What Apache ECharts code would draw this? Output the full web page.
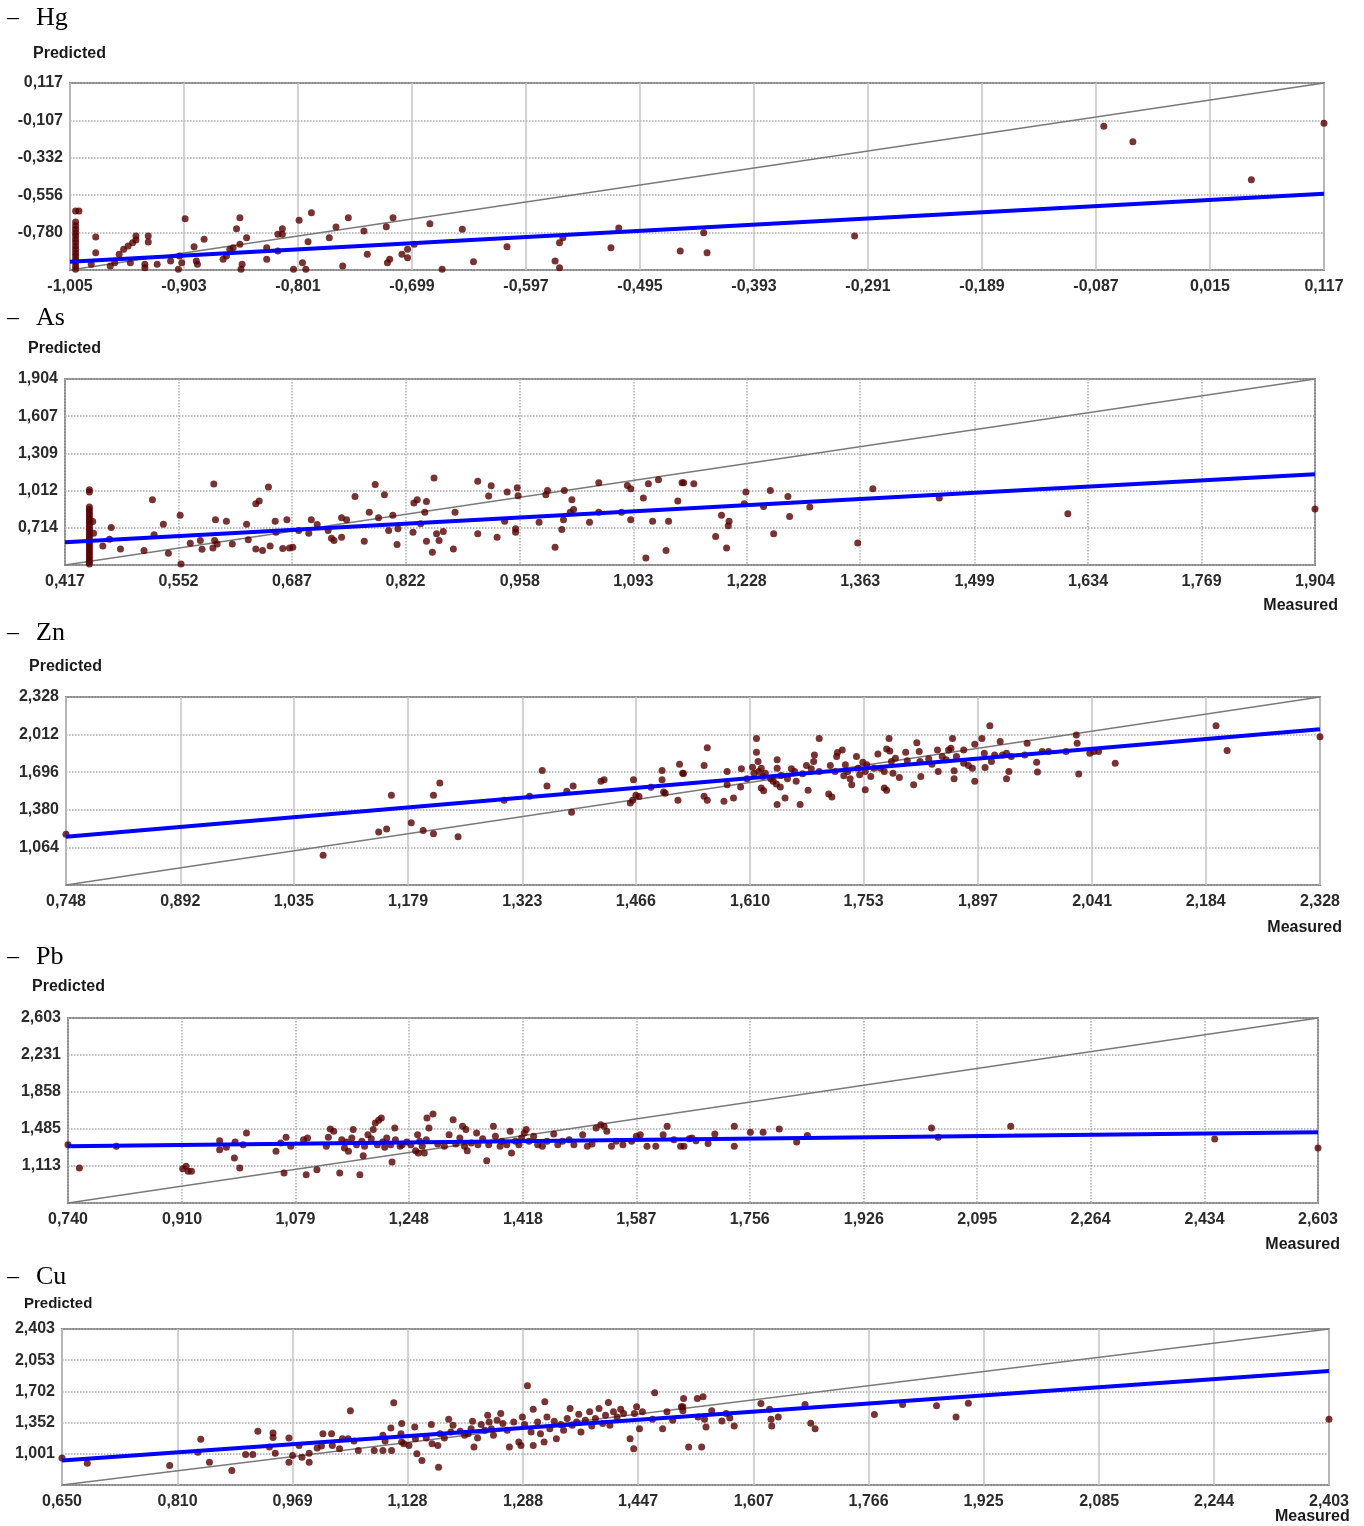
<!DOCTYPE html>
<html><head><meta charset="utf-8">
<script src="https://cdn.jsdelivr.net/npm/echarts@6/dist/echarts.min.js"></script>
<style>html,body{margin:0;padding:0;background:#fff}#c{width:1364px;height:1526px}</style>
</head><body><div id="c"></div>
<script>
// ---------- tick labels ----------
const hgXTicks = [-1.005,-0.903,-0.801,-0.699,-0.597,-0.495,-0.393,-0.291,-0.189,-0.087,0.015,0.117];
const hgYTicks = [-1.005,-0.780,-0.556,-0.332,-0.107,0.117];
const asXTicks = [0.417,0.552,0.687,0.822,0.958,1.093,1.228,1.363,1.499,1.634,1.769,1.904];
const asYTicks = [0.417,0.714,1.012,1.309,1.607,1.904];
const znXTicks = [0.748,0.892,1.035,1.179,1.323,1.466,1.610,1.753,1.897,2.041,2.184,2.328];
const znYTicks = [0.748,1.064,1.380,1.696,2.012,2.328];
const pbXTicks = [0.740,0.910,1.079,1.248,1.418,1.587,1.756,1.926,2.095,2.264,2.434,2.603];
const pbYTicks = [0.740,1.113,1.485,1.858,2.231,2.603];
const cuXTicks = [0.650,0.810,0.969,1.128,1.288,1.447,1.607,1.766,1.925,2.085,2.244,2.403];
const cuYTicks = [0.650,1.001,1.352,1.702,2.053,2.403];

// ---------- regression lines (measured, predicted) ----------
const hgFit = [[-1.005,-0.955],[0.117,-0.547]];
const asFit = [[0.417,0.599],[1.904,1.142]];
const znFit = [[0.748,1.154],[2.328,2.056]];
const pbFit = [[0.740,1.311],[2.603,1.452]];
const cuFit = [[0.650,0.925],[2.403,1.932]];

// ---------- points [measured, predicted] ----------
const hgPoints = [
[-1.0,-0.651],[-0.997,-0.651],[-1.0,-0.717],[-1.0,-0.740],[-1.0,-0.761],[-1.0,-0.781],[-1.0,-0.800],[-1.0,-0.821],[-1.0,-0.840],[-1.0,-0.861],[-1.0,-0.880],[-1.0,-0.901],[-1.0,-0.920],[-1.0,-0.941],[-1.0,-0.960],[-1.0,-0.981],[-1.0,-1.0],
[-0.982,-0.807],[-0.982,-0.901],[-0.986,-0.971],[-0.969,-0.981],[-0.965,-0.961],[-0.961,-0.911],[-0.957,-0.881],[-0.953,-0.861],[-0.949,-0.841],[-0.946,-0.801],[-0.946,-0.825],[-0.951,-0.961],[-0.938,-0.971],[-0.938,-0.991],[-0.935,-0.801],[-0.935,-0.837],[-0.927,-0.971],[-0.915,-0.951],[-0.907,-0.921],[-0.902,-0.697],[-0.905,-0.961],[-0.908,-1.001],[-0.894,-0.865],[-0.892,-0.951],[-0.891,-0.971],[-0.885,-0.821],[-0.868,-0.941],[-0.865,-0.921],[-0.862,-0.881],[-0.859,-0.871],[-0.856,-0.757],[-0.853,-0.691],[-0.853,-0.851],[-0.851,-0.971],[-0.852,-1.001],[-0.847,-0.811],[-0.829,-0.871],[-0.829,-0.941],[-0.819,-0.891],[-0.819,-0.791],[-0.815,-0.757],[-0.815,-0.791],[-0.805,-1.001],[-0.800,-0.707],[-0.797,-0.961],[-0.794,-1.001],[-0.792,-0.835],[-0.789,-0.661],[-0.773,-0.811],[-0.767,-0.747],[-0.761,-0.981],[-0.756,-0.691],[-0.742,-0.771],[-0.739,-0.911],[-0.722,-0.745],[-0.721,-0.961],[-0.719,-0.941],[-0.716,-0.691],[-0.708,-0.911],[-0.703,-0.931],[-0.703,-0.881],[-0.697,-0.851],[-0.683,-0.727],[-0.672,-1.001],[-0.654,-0.761],[-0.644,-0.955],[-0.614,-0.865],[-0.571,-0.951],[-0.567,-0.991],[-0.567,-0.841],[-0.564,-0.811],[-0.521,-0.871],[-0.514,-0.753],[-0.459,-0.891],[-0.438,-0.781],[-0.435,-0.901],[-0.303,-0.801],[-0.080,-0.143],[-0.054,-0.235],[0.052,-0.463],[0.117,-0.125]
];
const asPoints = [
[0.446,1.019],[0.446,1.000],[0.446,0.880],[0.446,0.860],[0.446,0.840],[0.446,0.820],[0.446,0.800],[0.446,0.780],[0.446,0.760],[0.446,0.740],[0.446,0.720],[0.446,0.700],[0.446,0.680],[0.446,0.660],[0.446,0.640],[0.446,0.620],[0.446,0.600],[0.446,0.580],[0.446,0.560],[0.446,0.540],[0.446,0.520],[0.446,0.500],[0.446,0.480],[0.446,0.460],[0.446,0.440],[0.446,0.425],[0.450,0.765],[0.451,0.671],
[0.462,0.569],[0.472,0.716],[0.470,0.623],[0.483,0.545],[0.511,0.532],[0.521,0.938],[0.523,0.658],[0.534,0.743],[0.540,0.511],[0.554,0.815],[0.555,0.425],[0.566,0.591],[0.578,0.612],[0.580,0.543],[0.594,1.064],[0.596,0.778],[0.595,0.612],[0.593,0.553],[0.598,0.585],[0.609,0.767],[0.616,0.585],[0.633,0.743],[0.635,0.618],[0.644,0.906],[0.648,0.928],[0.644,0.545],[0.652,0.532],[0.659,1.040],[0.661,0.569],[0.667,0.767],[0.668,0.679],[0.676,0.548],[0.681,0.778],[0.684,0.553],[0.688,0.559],[0.695,0.692],[0.707,0.671],[0.710,0.778],[0.717,0.741],[0.730,0.692],[0.734,0.631],[0.737,0.612],[0.746,0.794],[0.752,0.778],[0.746,0.639],[0.762,0.965],[0.773,0.607],[0.779,0.839],[0.786,1.061],[0.790,0.794],[0.797,0.979],[0.802,0.692],[0.807,0.815],[0.813,0.706],[0.812,0.580],[0.831,0.679],[0.832,0.912],[0.836,0.938],[0.840,0.746],[0.845,0.839],[0.847,0.925],[0.847,0.607],[0.854,0.519],[0.856,1.112],[0.859,0.666],[0.862,0.612],[0.867,0.684],[0.879,0.545],[0.881,0.839],[0.908,0.666],[0.908,1.086],[0.921,0.968],[0.924,1.051],[0.931,0.639],[0.940,0.767],[0.943,1.000],[0.953,0.679],[0.953,0.706],[0.955,1.035],[0.956,0.971],[0.981,0.759],[0.989,0.979],[0.991,1.013],[1.000,0.559],[1.008,0.700],[1.010,0.778],[1.011,1.013],[1.018,0.839],[1.020,0.938],[1.022,0.861],[1.041,0.759],[1.052,1.075],[1.052,0.839],[1.079,0.839],[1.086,1.053],[1.090,1.027],[1.090,0.778],[1.105,0.952],[1.108,0.473],[1.111,1.067],[1.116,0.767],[1.123,1.099],[1.132,0.532],[1.135,0.767],[1.146,0.928],[1.151,1.075],[1.165,1.067],
[1.153,1.075],[1.191,0.644],[1.198,0.815],[1.204,0.553],[1.206,0.730],[1.207,0.767],[1.225,0.906],[1.227,1.000],[1.248,0.885],[1.256,1.013],[1.260,0.666],[1.277,0.965],[1.279,0.805],[1.303,0.880],[1.360,0.593],[1.378,1.027],[1.457,0.952],[1.610,0.826],[1.904,0.864]
];
const znPoints = [
[0.748,1.174],[1.072,0.998],[1.142,1.193],[1.152,1.218],[1.158,1.502],[1.183,1.271],[1.198,1.207],[1.211,1.179],[1.211,1.502],[1.219,1.605],[1.242,1.154],[1.300,1.460],[1.332,1.494],[1.348,1.711],[1.354,1.580],[1.379,1.535],[1.385,1.360],[1.387,1.580],[1.422,1.619],[1.426,1.633],[1.459,1.438],[1.462,1.460],[1.463,1.633],[1.466,1.502],[1.470,1.491],[1.485,1.569],[1.499,1.711],[1.499,1.633],[1.501,1.530],[1.503,1.519],[1.519,1.460],[1.521,1.763],[1.526,1.686],
[1.525,1.688],[1.552,1.752],[1.556,1.902],[1.552,1.494],[1.556,1.460],[1.577,1.452],[1.581,1.591],[1.581,1.702],[1.589,1.480],[1.598,1.571],[1.599,1.724],[1.606,1.641],[1.613,1.738],[1.615,1.688],[1.618,1.980],[1.618,1.864],[1.620,1.786],[1.621,1.702],[1.624,1.730],[1.626,1.660],[1.624,1.563],[1.627,1.541],[1.629,1.688],[1.636,1.641],[1.639,1.619],[1.643,1.597],[1.644,1.800],[1.644,1.730],[1.644,1.424],[1.648,1.571],[1.649,1.669],[1.654,1.480],[1.657,1.641],[1.662,1.724],[1.666,1.702],[1.668,1.619],[1.673,1.424],[1.676,1.683],[1.681,1.752],[1.683,1.544],[1.687,1.724],[1.690,1.786],[1.691,1.841],[1.697,1.980],[1.697,1.702],[1.709,1.513],[1.713,1.488],[1.711,1.752],[1.717,1.702],[1.719,1.827],[1.720,1.861],[1.726,1.883],[1.728,1.666],[1.730,1.758],[1.733,1.702],[1.736,1.641],[1.738,1.591],[1.744,1.827],[1.746,1.730],[1.748,1.674],[1.752,1.780],[1.755,1.702],[1.755,1.549],[1.757,1.758],[1.762,1.660],[1.766,1.730],[1.771,1.850],[1.774,1.730],[1.779,1.702],[1.779,1.563],[1.782,1.544],[1.782,1.891],[1.785,1.980],[1.786,1.875],[1.788,1.786],[1.790,1.688],[1.793,1.814],[1.798,1.652],[1.806,1.864],[1.808,1.792],[1.816,1.591],[1.820,1.944],[1.823,1.869],[1.824,1.786],[1.825,1.660],[1.835,1.808],[1.839,1.763],[1.846,1.883],[1.847,1.702],[1.852,1.827],[1.857,1.800],[1.860,1.883],[1.863,1.897],[1.865,1.980],[1.867,1.708],[1.867,1.641],[1.870,1.827],[1.879,1.883],[1.879,1.772],[1.885,1.752],[1.890,1.730],[1.893,1.619],[1.893,1.930],[1.902,1.980],[1.905,1.855],[1.906,1.736],[1.912,2.086],[1.914,1.786],[1.918,1.841],[1.925,1.953],[1.928,1.841],[1.933,1.855],[1.933,1.641],[1.936,1.702],[1.939,1.827],[1.956,1.841],[1.959,1.939],[1.971,1.780],[1.972,1.697],[1.978,1.869],[1.986,1.869],[2.008,1.869],[2.021,2.008],[2.022,1.939],[2.024,1.680],[2.038,1.855],[2.043,1.869],[2.049,1.869],[2.070,1.772],[2.197,2.086],[2.211,1.878],[2.328,1.994]
];
const pbPoints = [
[0.740,1.327],[0.757,1.092],[0.812,1.311],[0.911,1.086],[0.916,1.109],[0.919,1.059],[0.924,1.059],[0.966,1.368],[0.966,1.277],[0.976,1.301],[0.988,1.193],[0.989,1.354],[0.996,1.092],[1.001,1.327],[1.006,1.445],[1.050,1.260],[1.057,1.344],[1.062,1.042],[1.065,1.401],[1.072,1.311],[1.091,1.378],[1.097,1.395],[1.095,1.025],[1.111,1.076],[1.125,1.311],[1.128,1.401],[1.131,1.485],[1.136,1.462],[1.145,1.042],[1.148,1.378],[1.152,1.294],[1.155,1.354],[1.158,1.260],[1.163,1.395],[1.165,1.479],[1.170,1.327],[1.175,1.025],[1.178,1.361],[1.180,1.217],[1.182,1.311],[1.187,1.428],[1.192,1.388],[1.195,1.479],[1.198,1.546],[1.201,1.327],[1.203,1.573],[1.207,1.596],[1.209,1.354],[1.212,1.301],[1.215,1.395],[1.221,1.327],[1.223,1.153],[1.227,1.495],[1.228,1.378],[1.235,1.311],[1.238,1.327],[1.245,1.354],[1.251,1.327],[1.258,1.267],[1.261,1.428],[1.262,1.244],[1.264,1.361],[1.268,1.311],[1.271,1.244],[1.274,1.378],[1.275,1.596],[1.278,1.495],[1.284,1.636],[1.291,1.334],[1.301,1.311],[1.308,1.428],[1.314,1.579],[1.318,1.334],[1.324,1.395],[1.328,1.512],[1.331,1.311],[1.333,1.479],[1.335,1.267],[1.341,1.344],[1.349,1.445],[1.351,1.327],[1.358,1.388],[1.364,1.166],[1.367,1.327],[1.374,1.512],[1.377,1.411],[1.384,1.311],[1.387,1.361],[1.394,1.327],[1.399,1.462],[1.401,1.244],[1.407,1.361],[1.412,1.327],[1.416,1.395],[1.420,1.445],[1.423,1.479],[1.427,1.361],[1.434,1.411],[1.440,1.327],[1.447,1.311],[1.454,1.361],[1.464,1.435],[1.470,1.327],[1.477,1.361],[1.487,1.378],[1.494,1.327],[1.507,1.428],[1.514,1.311],[1.521,1.334],[1.527,1.495],[1.534,1.529],[1.539,1.512],[1.543,1.462],[1.550,1.311],[1.557,1.361],[1.567,1.327],[1.580,1.361],[1.587,1.411],[1.593,1.428],[1.603,1.311],[1.616,1.311],[1.627,1.428],[1.633,1.512],[1.643,1.378],[1.653,1.311],[1.666,1.388],
[1.658,1.311],[1.670,1.395],[1.676,1.368],[1.694,1.338],[1.704,1.435],[1.733,1.512],[1.733,1.311],[1.757,1.452],[1.776,1.452],[1.800,1.485],[1.826,1.354],[1.842,1.421],[2.027,1.495],[2.037,1.401],[2.145,1.512],[2.449,1.385],[2.603,1.294]
];
const cuPoints = [
[0.650,0.952],[0.685,0.895],[0.799,0.869],[0.838,1.019],[0.842,1.163],[0.854,0.906],[0.885,0.812],[0.904,0.993],[0.914,0.993],[0.921,1.253],[0.937,1.076],[0.942,1.235],[0.942,1.185],[0.945,1.008],[0.964,1.178],[0.964,0.906],[0.969,0.982],[0.978,1.095],[0.982,0.963],[0.992,0.906],[0.992,1.008],[1.003,1.065],[1.009,1.087],[1.011,1.227],[1.023,1.227],[1.024,1.095],[1.034,1.057],[1.038,1.170],[1.046,1.170],[1.049,1.483],[1.054,1.144],[1.060,1.038],[1.082,1.038],[1.094,1.208],[1.094,1.038],[1.097,1.144],[1.105,1.291],[1.106,1.038],[1.109,1.574],[1.120,1.340],[1.119,1.227],[1.120,1.133],[1.123,1.114],[1.130,1.095],[1.138,1.302],[1.139,1.170],[1.141,1.001],[1.148,0.925],[1.154,1.178],[1.161,1.329],[1.162,1.114],[1.170,1.095],[1.171,0.850],[1.173,1.227],[1.179,1.178],[1.185,1.389],[1.188,1.246],[1.191,1.321],[1.201,1.253],[1.207,1.208],[1.212,1.227],[1.216,1.283],[1.218,1.366],[1.220,1.076],[1.225,1.178],[1.230,1.329],[1.235,1.265],[1.239,1.434],[1.241,1.359],[1.244,1.283],[1.247,1.208],[1.252,1.378],[1.257,1.453],[1.260,1.340],[1.266,1.265],[1.269,1.076],[1.275,1.359],[1.282,1.133],[1.285,1.095],[1.287,1.415],[1.290,1.329],[1.294,1.766],[1.299,1.246],[1.302,1.502],[1.302,1.095],[1.308,1.359],[1.312,1.227],[1.317,1.133],[1.318,1.585],[1.321,1.415],[1.325,1.283],[1.331,1.366],[1.334,1.170],[1.340,1.329],[1.344,1.265],[1.349,1.396],[1.353,1.510],[1.356,1.321],[1.362,1.359],[1.365,1.445],[1.368,1.246],[1.374,1.378],[1.380,1.472],[1.383,1.314],[1.388,1.396],[1.393,1.510],[1.398,1.340],[1.402,1.434],[1.406,1.577],[1.408,1.321],[1.413,1.472],[1.418,1.415],[1.423,1.502],[1.427,1.453],[1.436,1.170],[1.441,1.057],[1.442,1.453],[1.445,1.528],[1.449,1.283],[1.453,1.472],[1.467,1.389],[1.470,1.687],[1.481,1.283],[1.487,1.472],[1.495,1.378],[1.507,1.528],[1.510,1.623],[1.517,1.076],[1.529,1.623],
[1.509,1.528],[1.509,1.483],[1.530,1.415],[1.535,1.076],[1.537,1.641],[1.539,1.389],[1.541,1.302],[1.549,1.483],[1.563,1.370],[1.569,1.453],[1.574,1.404],[1.580,1.314],[1.617,1.566],[1.629,1.502],[1.631,1.389],[1.632,1.314],[1.641,1.415],[1.678,1.555],[1.686,1.344],[1.692,1.283],[1.774,1.442],[1.813,1.555],[1.860,1.540],[1.887,1.415],[1.904,1.570],[2.403,1.389]
];

const panels = [
  {name:'Hg', xt:hgXTicks, yt:hgYTicks, pts:hgPoints, fit:hgFit, grid:{left:70,top:83,width:1254,height:187}, titleY:18, pred:[33,55,16], meas:null, vSolid:true},
  {name:'As', xt:asXTicks, yt:asYTicks, pts:asPoints, fit:asFit, grid:{left:65,top:379,width:1250,height:186}, titleY:318, pred:[28,350,16], meas:{right:26,y:607}, vSolid:false},
  {name:'Zn', xt:znXTicks, yt:znYTicks, pts:znPoints, fit:znFit, grid:{left:66,top:697,width:1254,height:188}, titleY:633, pred:[29,668,16], meas:{right:22,y:929}, vSolid:true},
  {name:'Pb', xt:pbXTicks, yt:pbYTicks, pts:pbPoints, fit:pbFit, grid:{left:68,top:1018,width:1250,height:185}, titleY:957, pred:[32,988,16], meas:{right:24,y:1246}, vSolid:false},
  {name:'Cu', xt:cuXTicks, yt:cuYTicks, pts:cuPoints, fit:cuFit, grid:{left:62,top:1329,width:1267,height:156}, titleY:1277, pred:[24,1305,15], meas:{left:1275,y:1518}, vSolid:true}
];

const LBL = "'Liberation Sans','Arial',sans-serif";
const fmt = v => Number(v).toFixed(3).replace('.', ',');

const grid = [], xAxis = [], yAxis = [], series = [], graphic = [];
panels.forEach((p, i) => {
  grid.push(Object.assign({show:true, borderColor:'#8a8a8a', borderWidth:2, backgroundColor:'#fff', containLabel:false}, p.grid));
  const xmin = p.xt[0], xmax = p.xt[p.xt.length-1];
  const ymin = p.yt[0], ymax = p.yt[p.yt.length-1];
  const lab = {formatter:fmt, fontSize:16, fontWeight:'bold', color:'#2b2b2b', fontFamily:LBL, hideOverlap:false};
  xAxis.push({
    gridIndex:i, type:'value', min:xmin, max:xmax,
    axisLine:{show:false},
    axisTick:{show:false, customValues:p.xt},
    axisLabel:Object.assign({customValues:p.xt, margin:9, showMinLabel:true, showMaxLabel:true}, lab),
    splitLine:{show:true, lineStyle:{color:p.vSolid?'#c4c4c4':'#b0b0b0', width:1.5, type:p.vSolid?'solid':'dotted'}}
  });
  yAxis.push({
    gridIndex:i, type:'value', min:ymin, max:ymax,
    axisLine:{show:false},
    axisTick:{show:false, customValues:p.yt},
    axisLabel:Object.assign({customValues:p.yt.slice(1), margin:7}, lab),
    splitLine:{show:true, lineStyle:{color:'#a8a8a8', width:1.5, type:'dotted'}}
  });
  series.push({
    type:'line', xAxisIndex:i, yAxisIndex:i, data:[[xmin,ymin],[xmax,ymax]],
    showSymbol:false, silent:true, z:2, lineStyle:{color:'#7a7a7a', width:1.5}
  });
  series.push({
    type:'scatter', xAxisIndex:i, yAxisIndex:i, data:p.pts,
    symbol:'circle', symbolSize:7, z:3, itemStyle:{color:'#560000'}
  });
  series.push({
    type:'line', xAxisIndex:i, yAxisIndex:i, data:p.fit,
    showSymbol:false, silent:true, z:4, lineStyle:{color:'#0000ff', width:4}
  });
  graphic.push({type:'text', left:7, top:p.titleY-12, style:{text:'–', font:"24px 'Liberation Serif','Times New Roman',serif", fill:'#000'}});
  graphic.push({type:'text', left:36, top:p.titleY-13, style:{text:p.name, font:"26px 'Liberation Serif','Times New Roman',serif", fill:'#000'}});
  graphic.push({type:'text', left:p.pred[0], top:p.pred[1]-p.pred[2]/2-1, style:{text:'Predicted', font:`bold ${p.pred[2]}px ${LBL}`, fill:'#1a1a1a'}});
  if (p.meas) {
    const m = {type:'text', top:p.meas.y-9, style:{text:'Measured', font:`bold 16px ${LBL}`, fill:'#1a1a1a'}};
    if (p.meas.left !== undefined) m.left = p.meas.left; else m.right = p.meas.right;
    graphic.push(m);
  }
});

const chart = echarts.init(document.getElementById('c'), null, {renderer:'canvas'});
chart.setOption({backgroundColor:'#fff', animation:false, grid, xAxis, yAxis, series, graphic});
</script></body></html>
